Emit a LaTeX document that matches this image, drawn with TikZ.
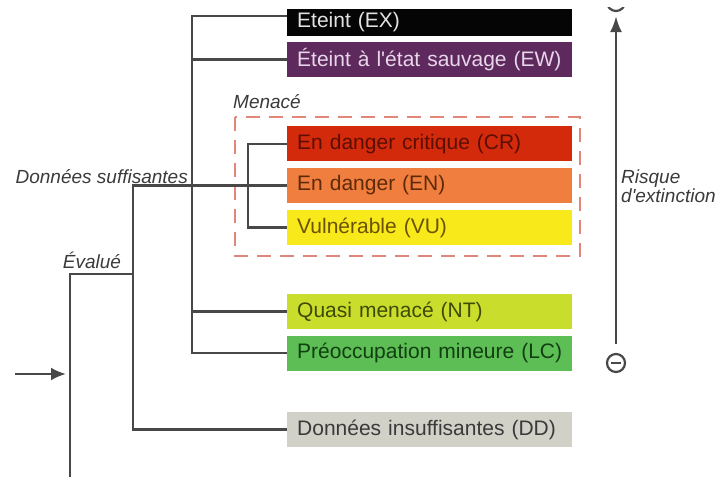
\documentclass[tikz,border=0pt]{standalone}
\usepackage{fontspec}
\setmainfont{Liberation Sans}
\usetikzlibrary{arrows.meta,positioning,calc}

\definecolor{exblack}{HTML}{050505}
\definecolor{extext}{HTML}{E2E2E2}
\definecolor{ewpurple}{HTML}{5E2A5E}
\definecolor{ewtext}{HTML}{E8D6EA}
\definecolor{crred}{HTML}{D42A0C}
\definecolor{crtext}{HTML}{5C0E02}
\definecolor{enorange}{HTML}{F07E3F}
\definecolor{entext}{HTML}{5E2A08}
\definecolor{vuyellow}{HTML}{F7E91A}
\definecolor{vutext}{HTML}{6A5200}
\definecolor{ntgreen}{HTML}{C9DE2C}
\definecolor{nttext}{HTML}{3F4A04}
\definecolor{lcgreen}{HTML}{5DBE55}
\definecolor{lctext}{HTML}{113F11}
\definecolor{ddgray}{HTML}{D2D1C8}
\definecolor{ddtext}{HTML}{3A3A3A}
\definecolor{treegray}{HTML}{484848}
\definecolor{dashred}{HTML}{E0877A}

\tikzset{
  catbox/.style={rectangle, anchor=west, text width=265bp, inner xsep=10bp, inner ysep=0bp,
    minimum height=35bp, align=left, font=\fontsize{21bp}{24bp}\selectfont},
  lbl/.style={font=\fontsize{19bp}{21bp}\selectfont\itshape, text=ddtext, inner sep=0bp},
  tree/.style={draw=treegray, line width=2.5bp},
  riskend/.style={circle, draw=treegray, line width=2.2bp, minimum size=18bp, inner sep=0bp},
}

\begin{document}
\begin{tikzpicture}[x=1bp, y={(0bp,-1bp)}]
    \clip (0,0) rectangle (715,477);

    % Categories
    \node[catbox, fill=exblack, text=extext, minimum height=27bp] (ex) at (287,22.5) {Eteint (EX)};
    \node[catbox, fill=ewpurple, text=ewtext] (ew) at (287,59.5) {Éteint à l\textquotesingle état sauvage (EW)};
    \node[catbox, fill=crred, text=crtext] (cr) at (287,144) {En danger critique (CR)};
    \node[catbox, fill=enorange, text=entext] (en) at (287,185.5) {En danger (EN)};
    \node[catbox, fill=vuyellow, text=vutext] (vu) at (287,227.5) {Vulnérable (VU)};
    \node[catbox, fill=ntgreen, text=nttext] (nt) at (287,311.5) {Quasi menacé (NT)};
    \node[catbox, fill=lcgreen, text=lctext] (lc) at (287,353) {Préoccupation mineure (LC)};
    \node[catbox, fill=ddgray, text=ddtext] (dd) at (287,429.5) {Données insuffisantes (DD)};

    % Menace group
    \draw[dashred, line width=2bp, dash pattern=on 14bp off 9bp] (235,117) rectangle (580,256);
    \node[lbl, anchor=west] (menace) at (233,102) {Menacé};

    % Branch labels
    \node[lbl, anchor=east] (suff) at (188,177) {Données suffisantes};
    \node[lbl] (eval) at (92,260) {Évalué};

    % Tree
    \coordinate (jext) at (192,0);
    \coordinate (jsuff) at (133,0);
    \coordinate (jmen) at (248,0);
    \coordinate (exin) at ([yshift=6.5bp]ex.west);
    \draw[tree] (exin) -- (exin -| jext) -- (lc.west -| jext) -- (lc.west);
    \draw[tree] (ew.west) -- (ew.west -| jext);
    \draw[tree] (nt.west) -- (nt.west -| jext);
    \draw[tree] (en.west) -- (en.west -| jsuff) -- (dd.west -| jsuff) -- (dd.west);
    \draw[tree] (cr.west) -- (cr.west -| jmen) -- (vu.west -| jmen) -- (vu.west);

    \coordinate (evjoin) at (133,274);
    \coordinate (evturn) at (70,274);
    \coordinate (evend) at (70,477);
    \draw[tree] (evjoin) -- (evturn) -- (evend);

    % Input arrow
    \coordinate (start) at (15,374);
    \coordinate (arrtip) at (66,374);
    \draw[tree, -{Latex[length=15bp,width=13bp]}] (start) -- (arrtip);

    % Risk scale
    \node[riskend] (lessrisk) at (616,363) {};
    \draw[treegray, line width=2.2bp] ([xshift=-5bp]lessrisk.center) -- ([xshift=5bp]lessrisk.center);
    \begin{scope}
      \clip (0,8) rectangle (715,477);
      \node[riskend] (morerisk) at (616,2) {};
      \draw[treegray, line width=2.2bp] ([xshift=-5bp]morerisk.center) -- ([xshift=5bp]morerisk.center);
      \draw[treegray, line width=2.2bp] ([yshift=-5bp]morerisk.center) -- ([yshift=5bp]morerisk.center);
    \end{scope}
    \draw[tree, -{Latex[length=16bp,width=12bp]}, shorten <=9bp, shorten >=4bp] (lessrisk) -- (morerisk);
    \node[lbl, anchor=north west, align=left, font=\fontsize{19bp}{19bp}\selectfont\itshape] (risk) at (621,170) {Risque\\d\textquotesingle extinction};
\end{tikzpicture}
\end{document}
